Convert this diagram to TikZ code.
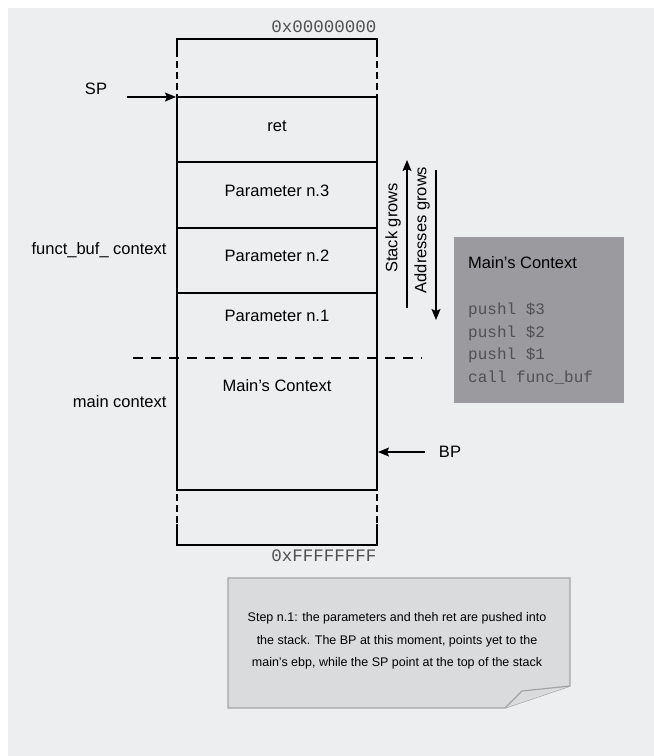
\documentclass[tikz,border=0pt]{standalone}
\usepackage{fontspec}
\setmainfont{Liberation Sans}
\setmonofont{Liberation Mono}
\usetikzlibrary{arrows.meta}

\definecolor{panel}{HTML}{EDEEF0}
\definecolor{codebox}{HTML}{9B9A9F}
\definecolor{note}{HTML}{D9DBDD}
\definecolor{noteline}{HTML}{A3A4A6}
\definecolor{codetext}{HTML}{505052}

\begin{document}
\begin{tikzpicture}[x=1pt,y=-1pt,>={Stealth[length=11pt,width=9pt,inset=2pt]},
    label text/.style={font=\fontsize{16.5}{20}\selectfont},
    addr/.style={font=\ttfamily\fontsize{17.5}{20}\selectfont,text=codetext},
    code line/.style={font=\ttfamily\fontsize{16}{20}\selectfont,text=codetext,anchor=west,inner sep=0pt},
    ptr/.style={->,line width=1.4pt},
    frame/.style={line width=1.4pt}]

  \useasboundingbox (0,0) rectangle (654,756);
  \fill[white] (0,0) rectangle (654,756);
  \fill[panel] (8,8) rectangle (654,756);

  % stack frame
  \draw[frame] (177,57) -- (177,39) -- (377,39) -- (377,57);
  \draw[frame,dash pattern=on 7pt off 4pt] (177,61) -- (177,97) (377,61) -- (377,97);
  \draw[frame] (177,97) rectangle (377,490);
  \draw[frame] (177,162) -- (377,162)
               (177,228) -- (377,228)
               (177,293) -- (377,293);
  \draw[frame,dash pattern=on 7pt off 4pt] (177,494) -- (177,524) (377,494) -- (377,524);
  \draw[frame] (177,524) -- (177,545) -- (377,545) -- (377,524);
  \draw[frame,dash pattern=on 10pt off 8pt] (133,358) -- (422,358);

  \node[addr,anchor=east] (top) at (380,27) {0x00000000};
  \node[addr,anchor=east] (bottom) at (380,556) {0xFFFFFFFF};

  % cells
  \node[label text] (ret) at (277,126) {ret};
  \node[label text] (par3) at (277,191) {Parameter n.3};
  \node[label text] (par2) at (277,256) {Parameter n.2};
  \node[label text] (par1) at (277,316) {Parameter n.1};
  \node[label text] (mainctx) at (277,386) {Main’s Context};

  \node[label text,anchor=east] (fnctx) at (170,250) {funct\_buf\_ context};
  \node[label text,anchor=east] (mainlbl) at (170,402) {main context};

  % pointers
  \node[label text] (sp) at (96,89) {SP};
  \coordinate (sptip) at (176,97);
  \draw[ptr] ([xshift=16pt]sp.east |- sptip) -- (sptip);
  \node[label text] (bp) at (450,452) {BP};
  \coordinate (bptip) at (378,452);
  \draw[ptr] ([xshift=-10pt]bp.west |- bptip) -- (bptip);

  % growth
  \coordinate (sgbot) at (407,308);
  \coordinate (sgtop) at (407,160);
  \draw[ptr] (sgbot) -- (sgtop);
  \node[label text,rotate=90] (sglbl) at (393,228) {Stack grows};
  \coordinate (agtop) at (436,170);
  \coordinate (agbot) at (436,320);
  \draw[ptr] (agtop) -- (agbot);
  \node[label text,rotate=90] (aglbl) at (422,230) {Addresses grows};

  % main's code
  \node[fill=codebox,minimum width=170pt,minimum height=166pt,anchor=north west] (code) at (454,237) {};
  \node[label text,anchor=west,inner sep=0pt] (codetitle) at (468,263) {Main’s Context};
  \node[code line] (c1) at (468,310) {pushl \$3};
  \node[code line] (c2) at (468,333) {pushl \$2};
  \node[code line] (c3) at (468,355) {pushl \$1};
  \node[code line] (c4) at (468,378) {call func\_buf};

  % note
  \draw[noteline,fill=note,line width=1.2pt] (228,578) -- (570,578) -- (570,686) -- (505,708) -- (228,708) -- cycle;
  \draw[noteline,fill=note,line width=1.2pt] (505,708) -- (522,691) -- (570,686);
  \node[align=center,font=\fontsize{12.5}{22.5}\selectfont] (step) at (397,641)
    {Step n.1: the parameters and theh ret are pushed into\\
     the stack. The BP at this moment, points yet to the\\
     main’s ebp, while the SP point at the top of the stack};
\end{tikzpicture}
\end{document}
